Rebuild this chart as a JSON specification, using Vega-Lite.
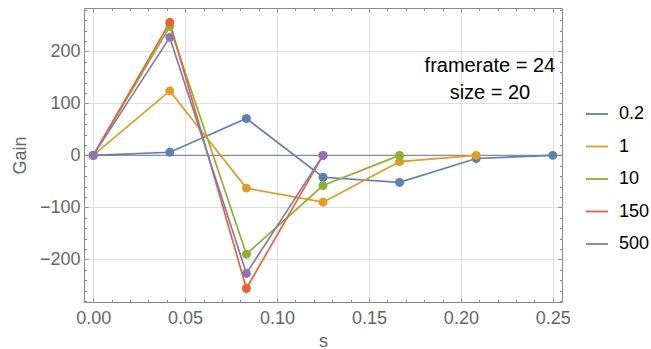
{
  "$schema": "https://vega.github.io/schema/vega-lite/v6.json",
  "width": 478,
  "height": 294,
  "autosize": "none",
  "padding": {"left": 84, "top": 8, "right": 89, "bottom": 47},
  "config": {
    "view": {"stroke": "#8a8a8a", "strokeWidth": 1},
    "font": "Liberation Sans",
    "axis": {"labelFlush": false, "labelOverlap": false, "labelBound": false}
  },
  "datasets": {
    "series": [
      {"s": 0, "gain": 0, "k": "0.2"},
      {"s": 0.041667, "gain": 6, "k": "0.2"},
      {"s": 0.083333, "gain": 71, "k": "0.2"},
      {"s": 0.125, "gain": -42, "k": "0.2"},
      {"s": 0.166667, "gain": -52, "k": "0.2"},
      {"s": 0.208333, "gain": -6, "k": "0.2"},
      {"s": 0.25, "gain": 0, "k": "0.2"},
      {"s": 0, "gain": 0, "k": "1"},
      {"s": 0.041667, "gain": 124, "k": "1"},
      {"s": 0.083333, "gain": -63, "k": "1"},
      {"s": 0.125, "gain": -90, "k": "1"},
      {"s": 0.166667, "gain": -12, "k": "1"},
      {"s": 0.208333, "gain": 0, "k": "1"},
      {"s": 0, "gain": 0, "k": "10"},
      {"s": 0.041667, "gain": 248, "k": "10"},
      {"s": 0.083333, "gain": -190, "k": "10"},
      {"s": 0.125, "gain": -58, "k": "10"},
      {"s": 0.166667, "gain": 0, "k": "10"},
      {"s": 0, "gain": 0, "k": "150"},
      {"s": 0.041667, "gain": 256, "k": "150"},
      {"s": 0.083333, "gain": -256, "k": "150"},
      {"s": 0.125, "gain": 0, "k": "150"},
      {"s": 0, "gain": 0, "k": "500"},
      {"s": 0.041667, "gain": 227, "k": "500"},
      {"s": 0.083333, "gain": -227, "k": "500"},
      {"s": 0.125, "gain": 0, "k": "500"}
    ]
  },
  "resolve": {"axis": {"x": "independent", "y": "independent"}},
  "layer": [
    {
      "data": {"values": [{"zero": 0}]},
      "mark": {"type": "rule", "color": "#8a8a8a", "strokeWidth": 1.4},
      "encoding": {
        "y": {"field": "zero", "type": "quantitative", "axis": null}
      }
    },
    {
      "data": {"name": "series"},
      "mark": {"type": "line", "strokeWidth": 1.7},
      "encoding": {
        "x": {
          "field": "s", "type": "quantitative",
          "scale": {"domain": [-0.005, 0.255], "nice": false, "zero": false},
          "axis": {
            "orient": "bottom", "values": [0, 0.05, 0.1, 0.15, 0.2, 0.25], "format": ".2f",
            "grid": true, "gridColor": "#dedede", "gridWidth": 1, "domain": false,
            "ticks": true, "tickSize": -4, "tickColor": "#8a8a8a", "tickWidth": 1,
            "labelPadding": 11, "labelFontSize": 18, "labelColor": "#666666",
            "title": "s", "titleFontSize": 18, "titleColor": "#666666", "titleFontWeight": "normal", "titlePadding": 5
          }
        },
        "y": {
          "field": "gain", "type": "quantitative",
          "scale": {"domain": [-282, 283.5], "nice": false, "zero": false},
          "axis": {
            "orient": "left", "values": [-200, -100, 0, 100, 200],
            "grid": true, "gridColor": "#dedede", "gridWidth": 1, "domain": false,
            "ticks": true, "tickSize": -4, "tickColor": "#8a8a8a", "tickWidth": 1,
            "labelPadding": 8, "labelFontSize": 18, "labelColor": "#666666",
            "title": "Gain", "titleFontSize": 18, "titleColor": "#666666", "titleFontWeight": "normal", "titlePadding": 10
          }
        },
        "color": {
          "field": "k", "type": "nominal",
          "scale": {"domain": ["0.2", "1", "10", "150", "500"], "range": ["#5E81B5", "#E19C24", "#8FB032", "#EB6235", "#8778B3"]},
          "legend": {
            "title": null, "orient": "none", "legendX": 501, "legendY": 94,
            "symbolType": "stroke", "symbolSize": 484, "symbolStrokeWidth": 1.8,
            "labelFontSize": 18, "labelColor": "#000000", "labelOffset": 10,
            "rowPadding": 11.5, "padding": 0
          }
        }
      }
    },
    {
      "data": {"name": "series"},
      "mark": {"type": "point", "filled": true, "size": 80, "opacity": 1},
      "encoding": {
        "x": {
          "field": "s", "type": "quantitative",
          "axis": {"orient": "top", "values": [0, 0.05, 0.1, 0.15, 0.2, 0.25], "labels": false, "grid": false, "domain": false, "ticks": true, "tickSize": -4, "tickColor": "#8a8a8a", "title": null}
        },
        "y": {
          "field": "gain", "type": "quantitative",
          "axis": {"orient": "right", "values": [-200, -100, 0, 100, 200], "labels": false, "grid": false, "domain": false, "ticks": true, "tickSize": -4, "tickColor": "#8a8a8a", "title": null}
        },
        "color": {"field": "k", "type": "nominal", "legend": null}
      }
    },
    {
      "data": {"values": [{"s": 0.2158, "gain": 171, "label": "framerate = 24"}]},
      "mark": {"type": "text", "fontSize": 20, "color": "#000000", "align": "center", "baseline": "middle"},
      "encoding": {
        "x": {
          "field": "s", "type": "quantitative",
          "axis": {"orient": "bottom", "values": [0.01, 0.02, 0.03, 0.04, 0.06, 0.07, 0.08, 0.09, 0.11, 0.12, 0.13, 0.14, 0.16, 0.17, 0.18, 0.19, 0.21, 0.22, 0.23, 0.24], "labels": false, "grid": false, "domain": false, "ticks": true, "tickSize": -2.5, "tickColor": "#8a8a8a", "title": null}
        },
        "y": {
          "field": "gain", "type": "quantitative",
          "axis": {"orient": "left", "values": [-280, -260, -240, -220, -180, -160, -140, -120, -80, -60, -40, -20, 20, 40, 60, 80, 120, 140, 160, 180, 220, 240, 260, 280], "labels": false, "grid": false, "domain": false, "ticks": true, "tickSize": -2.5, "tickColor": "#8a8a8a", "title": null}
        },
        "text": {"field": "label"}
      }
    },
    {
      "data": {"values": [{"s": 0.2158, "gain": 120, "label": "size = 20"}]},
      "mark": {"type": "text", "fontSize": 20, "color": "#000000", "align": "center", "baseline": "middle"},
      "encoding": {
        "x": {
          "field": "s", "type": "quantitative",
          "axis": {"orient": "top", "values": [0.01, 0.02, 0.03, 0.04, 0.06, 0.07, 0.08, 0.09, 0.11, 0.12, 0.13, 0.14, 0.16, 0.17, 0.18, 0.19, 0.21, 0.22, 0.23, 0.24], "labels": false, "grid": false, "domain": false, "ticks": true, "tickSize": -2.5, "tickColor": "#8a8a8a", "title": null}
        },
        "y": {
          "field": "gain", "type": "quantitative",
          "axis": {"orient": "right", "values": [-280, -260, -240, -220, -180, -160, -140, -120, -80, -60, -40, -20, 20, 40, 60, 80, 120, 140, 160, 180, 220, 240, 260, 280], "labels": false, "grid": false, "domain": false, "ticks": true, "tickSize": -2.5, "tickColor": "#8a8a8a", "title": null}
        },
        "text": {"field": "label"}
      }
    }
  ]
}
